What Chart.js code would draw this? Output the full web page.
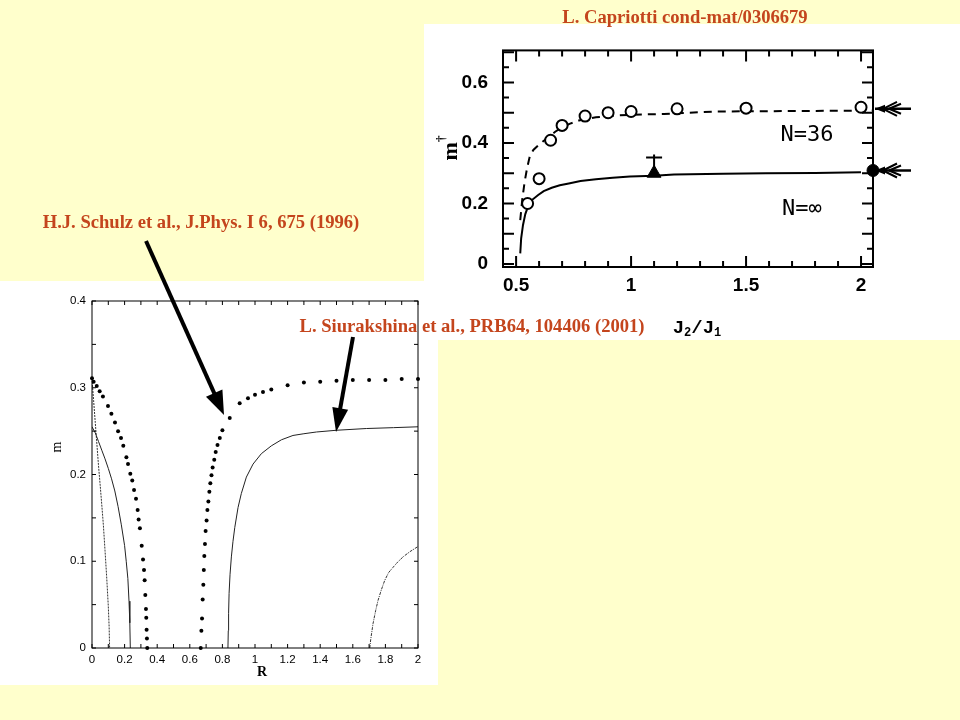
<!DOCTYPE html>
<html>
<head>
<meta charset="utf-8">
<script src="https://cdn.jsdelivr.net/npm/chart.js@4.4.1/dist/chart.umd.min.js"></script>
<style>
html,body{margin:0;padding:0;background:#FFFFCC;}
#page{position:relative;width:960px;height:720px;background:#FFFFCC;overflow:hidden;}
.box{position:absolute;background:#fff;}
#leftBox{left:0;top:281px;width:438px;height:404px;}
#rightBox{left:424px;top:24px;width:536px;height:316px;}
.note{position:absolute;color:#C4451D;font:bold 18.6px "Liberation Serif",serif;white-space:nowrap;transform:translate(-50%,-50%);}
#arrows{position:absolute;left:0;top:0;}
</style>
</head>
<body>
<div id="page">
  <div class="box" id="rightBox"><canvas id="right" width="536" height="316"></canvas></div>
  <div class="box" id="leftBox"><canvas id="left" width="438" height="404"></canvas></div>
  <svg id="arrows" width="960" height="720"></svg>
  <div class="note" style="left:685px;top:17px">L. Capriotti cond-mat/0306679</div>
  <div class="note" style="left:201px;top:222px">H.J. Schulz et al., J.Phys. I 6, 675 (1996)</div>
  <div class="note" style="left:472px;top:326px">L. Siurakshina et al., PRB64, 104406 (2001)</div>
</div>
<script>
// ---- left panel: m vs R ----
const leftXTicks = [0,0.2,0.4,0.6,0.8,1,1.2,1.4,1.6,1.8,2];
const leftYTicks = [0,0.1,0.2,0.3,0.4];

// Schulz et al. (dots)
const schulzLowX = [0,0.01,0.029,0.047,0.067,0.098,0.119,0.141,0.16,0.178,0.192,0.211,0.221,0.235,0.247,0.258,0.27,0.28,0.286,0.294,0.305,0.313,0.319,0.323,0.327,0.331,0.333,0.335,0.337,0.339];
const schulzLowY = [0.311,0.307,0.302,0.296,0.29,0.279,0.27,0.26,0.25,0.242,0.233,0.22,0.212,0.201,0.193,0.182,0.172,0.159,0.148,0.138,0.118,0.102,0.09,0.078,0.061,0.045,0.035,0.021,0.011,0];
const schulzHighX = [0.667,0.671,0.675,0.679,0.683,0.686,0.689,0.693,0.697,0.703,0.708,0.714,0.72,0.726,0.733,0.74,0.75,0.759,0.77,0.784,0.8,0.845,0.906,0.957,1.0,1.049,1.1,1.2,1.3,1.4,1.5,1.6,1.7,1.8,1.9,2.0];
const schulzHighY = [0,0.02,0.034,0.056,0.073,0.09,0.106,0.12,0.135,0.147,0.159,0.169,0.18,0.19,0.199,0.208,0.217,0.226,0.234,0.242,0.251,0.265,0.282,0.288,0.292,0.295,0.298,0.303,0.306,0.307,0.308,0.309,0.309,0.309,0.31,0.31];

// Siurakshina et al. (thin curves)
const curveAX = [0,0.02,0.04,0.06,0.08,0.1,0.12,0.14,0.16,0.18,0.2,0.21,0.22,0.227,0.232,0.235];
const curveAY = [0.255,0.248,0.238,0.228,0.218,0.207,0.195,0.181,0.163,0.142,0.118,0.1,0.08,0.054,0.029,0];
const curveBX = [0,0.01,0.02,0.03,0.04,0.05,0.06,0.07,0.08,0.09,0.1,0.105,0.108];
const curveBY = [0.31,0.285,0.26,0.235,0.21,0.188,0.165,0.141,0.112,0.082,0.048,0.025,0];
const curveCX = [0.834,0.836,0.838,0.841,0.847,0.855,0.865,0.876,0.896,0.916,0.947,0.988,1.039,1.1,1.162,1.233,1.3,1.377,1.5,1.683,1.85,2.0];
const curveCY = [0,0.02,0.04,0.063,0.085,0.105,0.123,0.139,0.162,0.178,0.197,0.212,0.224,0.233,0.24,0.245,0.247,0.249,0.251,0.253,0.254,0.255];
const curveDX = [1.704,1.71,1.724,1.74,1.755,1.775,1.796,1.82,1.847,1.875,1.908,1.95,2.0];
const curveDY = [0,0.01,0.028,0.043,0.055,0.067,0.078,0.087,0.093,0.099,0.105,0.111,0.117];

// ---- right panel: m+ vs J2/J1 (Capriotti) ----
const rightXTicks = [0.5,1,1.5,2];
const rightYTicks = [0,0.2,0.4,0.6];
const n36X = [0.55,0.6,0.65,0.7,0.8,0.9,1.0,1.2,1.5,2.0];
const n36Y = [0.2,0.282,0.409,0.458,0.489,0.5,0.504,0.513,0.515,0.518];
const n36LineX = [0.518,0.527,0.537,0.548,0.559,0.575,0.596,0.618,0.64,0.67,0.699,0.735,0.773,0.81,0.847,0.92,0.995,1.143,1.364,1.586,1.8,2.052];
const n36LineY = [0.145,0.215,0.271,0.318,0.354,0.377,0.392,0.406,0.419,0.437,0.452,0.464,0.474,0.48,0.485,0.49,0.493,0.496,0.504,0.505,0.506,0.507];
const ninfX = [0.518,0.522,0.53,0.54,0.552,0.57,0.596,0.62,0.655,0.69,0.729,0.78,0.847,0.92,0.995,1.1,1.187,1.4,1.586,1.8,2.0];
const ninfY = [0.035,0.085,0.129,0.165,0.19,0.212,0.228,0.241,0.252,0.26,0.266,0.274,0.28,0.285,0.289,0.292,0.296,0.298,0.3,0.301,0.303];
const starPoint = [1.1, 0.3];
const starBar = [0.3, 0.362, 0.352];   // bottom, top, cap
const infDot = [2.052, 0.309];
const arrowLevels = [0.513, 0.309];
const curveLabels = [['N=36',1.765,0.426],['N=\u221e',1.743,0.181]];

const zip = (xs, ys) => xs.map((x, i) => ({x: x, y: ys[i]}));
const fmt = v => String(+v.toFixed(2));

function richText(ctx, x, y, parts, rot){
  ctx.save();
  ctx.translate(x, y);
  if(rot) ctx.rotate(rot);
  let w = 0;
  parts.forEach(p => { ctx.font = p.f; w += ctx.measureText(p.t).width; });
  let cx = -w/2;
  ctx.textBaseline = 'middle';
  ctx.textAlign = 'left';
  parts.forEach(p => { ctx.font = p.f; ctx.fillText(p.t, cx, p.dy || 0); cx += ctx.measureText(p.t).width; });
  ctx.restore();
}

// frame with inward ticks on all sides, plus extra text
const decor = {
  id: 'decor',
  afterDatasetsDraw(chart, args, o){
    const {ctx, chartArea: a, scales: {x, y}} = chart;
    ctx.save();
    ctx.strokeStyle = '#000';
    ctx.fillStyle = '#000';
    ctx.lineWidth = o.frame;
    ctx.strokeRect(a.left, a.top, a.right - a.left, a.bottom - a.top);
    const marks = (sc, minor, major, lmin, lmaj, horiz) => {
      for(let i = Math.ceil(sc.min/minor - 1e-6); i*minor <= sc.max + 1e-9; i++){
        const v = i*minor;
        const q = v/major;
        const len = Math.abs(q - Math.round(q)) < 1e-6 ? lmaj : lmin;
        const p = sc.getPixelForValue(v);
        ctx.beginPath();
        if(horiz){
          ctx.moveTo(p, a.bottom); ctx.lineTo(p, a.bottom - len);
          ctx.moveTo(p, a.top); ctx.lineTo(p, a.top + len);
        } else {
          ctx.moveTo(a.left, p); ctx.lineTo(a.left + len, p);
          ctx.moveTo(a.right, p); ctx.lineTo(a.right - len, p);
        }
        ctx.stroke();
      }
    };
    marks(x, o.xt[0], o.xt[1], o.xt[2], o.xt[3], true);
    marks(y, o.yt[0], o.yt[1], o.yt[2], o.yt[3], false);
    (o.titles || []).forEach(t => richText(ctx, t.x, t.y, t.parts, t.rot));
    (o.dataText || []).forEach(t => {
      ctx.font = o.dataFont;
      ctx.textAlign = 'center';
      ctx.textBaseline = 'middle';
      ctx.fillText(t[0], x.getPixelForValue(t[1]), y.getPixelForValue(t[2]));
    });
    (o.arrows || []).forEach(lv => {
      const py = y.getPixelForValue(lv);
      const tx = a.right + 2;
      ctx.lineWidth = 2.5;
      ctx.beginPath(); ctx.moveTo(tx, py); ctx.lineTo(tx + 36, py); ctx.stroke();
      ctx.beginPath(); ctx.moveTo(tx, py); ctx.lineTo(tx + 10, py - 4); ctx.lineTo(tx + 10, py + 4); ctx.closePath(); ctx.fill();
      ctx.lineWidth = 2;
      ctx.beginPath();
      ctx.moveTo(tx + 8, py); ctx.lineTo(tx + 22, py - 7);
      ctx.moveTo(tx + 8, py); ctx.lineTo(tx + 22, py + 7);
      ctx.moveTo(tx + 14, py); ctx.lineTo(tx + 26, py - 5);
      ctx.moveTo(tx + 14, py); ctx.lineTo(tx + 26, py + 5);
      ctx.stroke();
    });
    ctx.restore();
  }
};

const setTicks = list => s => { s.ticks = list.map(v => ({value: v})); };

// left chart
new Chart(document.getElementById('left'), {
  type: 'scatter',
  data: {datasets: [
    {data: zip(schulzLowX, schulzLowY), pointRadius: 2, pointBackgroundColor: '#000', pointBorderWidth: 0, clip: false},
    {data: zip(schulzHighX, schulzHighY), pointRadius: 2, pointBackgroundColor: '#000', pointBorderWidth: 0, clip: false},
    {data: zip(curveAX, curveAY), showLine: true, pointRadius: 0, borderColor: '#222', borderWidth: 1},
    {data: zip(curveBX, curveBY), showLine: true, pointRadius: 0, borderColor: '#333', borderWidth: 1, borderDash: [2, 1]},
    {data: zip(curveCX, curveCY), showLine: true, pointRadius: 0, borderColor: '#222', borderWidth: 1},
    {data: zip(curveDX, curveDY), showLine: true, pointRadius: 0, borderColor: '#333', borderWidth: 1, borderDash: [3, 1, 1, 1]}
  ]},
  options: {
    responsive: false, animation: false, events: [],
    layout: {padding: {left: 45, top: 20, right: 20, bottom: 0}},
    plugins: {
      legend: {display: false}, tooltip: {enabled: false},
      decor: {
        frame: 1, xt: [0.1, 0.2, 4, 4], yt: [0.05, 0.1, 4, 4],
        titles: [
          {x: 57, y: 166, rot: -Math.PI/2, parts: [{t: 'm', f: '14px "Liberation Serif"'}]},
          {x: 262, y: 391, parts: [{t: 'R', f: 'bold 14px "Liberation Serif"'}]}
        ]
      }
    },
    scales: {
      x: {type: 'linear', min: 0, max: 2, afterFit: s => { s.height = 37; }, afterBuildTicks: setTicks(leftXTicks),
          grid: {display: false, drawTicks: false}, border: {display: false},
          ticks: {padding: 5, color: '#000', autoSkip: false, maxRotation: 0, font: {family: 'Liberation Sans', size: 11.5}, callback: fmt}},
      y: {type: 'linear', min: 0, max: 0.4, afterFit: s => { s.width = 47; }, afterBuildTicks: setTicks(leftYTicks),
          grid: {display: false, drawTicks: false}, border: {display: false},
          ticks: {padding: 6, color: '#000', autoSkip: false, font: {family: 'Liberation Sans', size: 11.5}, callback: fmt}}
    }
  },
  plugins: [decor]
});

// right chart
new Chart(document.getElementById('right'), {
  type: 'scatter',
  data: {datasets: [
    {data: [{x: infDot[0], y: infDot[1]}], pointRadius: 6, pointBackgroundColor: '#000', pointBorderColor: '#000', clip: false},
    {data: [{x: starPoint[0], y: starPoint[1]}], pointStyle: 'triangle', pointRadius: 8, pointBackgroundColor: '#000', pointBorderColor: '#000'},
    {data: [{x: starPoint[0], y: starBar[2]}], pointStyle: 'line', pointRadius: 8, pointBorderColor: '#000', pointBorderWidth: 2},
    {data: [{x: starPoint[0], y: starBar[0]}, {x: starPoint[0], y: starBar[1]}], showLine: true, pointRadius: 0, borderColor: '#000', borderWidth: 2},
    {data: zip(n36X, n36Y), pointRadius: 5.5, pointBackgroundColor: '#fff', pointBorderColor: '#000', pointBorderWidth: 2},
    {data: zip(n36LineX, n36LineY), showLine: true, pointRadius: 0, borderColor: '#000', borderWidth: 2, borderDash: [8, 6]},
    {data: zip(ninfX, ninfY), showLine: true, pointRadius: 0, borderColor: '#000', borderWidth: 2}
  ]},
  options: {
    responsive: false, animation: false, events: [],
    layout: {padding: {left: 0, top: 21, right: 87, bottom: 0}},
    plugins: {
      legend: {display: false}, tooltip: {enabled: false},
      decor: {
        frame: 2, xt: [0.1, 0.5, 6, 11], yt: [0.05, 0.1, 6, 11],
        titles: [
          {x: 25, y: 124, rot: -Math.PI/2, parts: [
            {t: 'm', f: 'bold 22px "Liberation Serif"', dy: 2},
            {t: '\u2020', f: 'bold 13px "Liberation Serif"', dy: -7}]},
          {x: 273, y: 304, parts: [
            {t: 'J', f: 'bold 19px "Liberation Mono"'},
            {t: '2', f: 'bold 12px "Liberation Mono"', dy: 5},
            {t: '/', f: 'bold 19px "Liberation Mono"'},
            {t: 'J', f: 'bold 19px "Liberation Mono"'},
            {t: '1', f: 'bold 12px "Liberation Mono"', dy: 5}]}
        ],
        dataText: curveLabels,
        dataFont: '22px "DejaVu Sans Mono"',
        arrows: arrowLevels
      }
    },
    scales: {
      x: {type: 'linear', min: 0.443, max: 2.052, afterFit: s => { s.height = 73; }, afterBuildTicks: setTicks(rightXTicks),
          grid: {display: false, drawTicks: false}, border: {display: false},
          ticks: {padding: 7, color: '#000', autoSkip: false, maxRotation: 0, font: {family: 'Liberation Sans', size: 19, weight: 'bold'}, callback: fmt}},
      y: {type: 'linear', min: -0.01, max: 0.706, afterFit: s => { s.width = 79; }, afterBuildTicks: setTicks(rightYTicks),
          grid: {display: false, drawTicks: false}, border: {display: false},
          ticks: {padding: 15, color: '#000', autoSkip: false, font: {family: 'Liberation Sans', size: 19, weight: 'bold'}, callback: fmt}}
    }
  },
  plugins: [decor]
});

// pointer arrows on the slide
const svg = document.getElementById('arrows');
function arrow(x1, y1, x2, y2, w, hl, hw){
  const dx = x2 - x1, dy = y2 - y1, L = Math.hypot(dx, dy), ux = dx/L, uy = dy/L;
  const bx = x2 - ux*hl, by = y2 - uy*hl;
  svg.innerHTML += `<line x1="${x1}" y1="${y1}" x2="${bx + ux*2}" y2="${by + uy*2}" stroke="#000" stroke-width="${w}"/>` +
    `<polygon points="${x2},${y2} ${bx - uy*hw},${by + ux*hw} ${bx + uy*hw},${by - ux*hw}" fill="#000"/>`;
}
arrow(146, 241, 224, 415, 4, 24, 9);
arrow(353, 337, 336, 432, 4, 24, 8);
</script>
</body>
</html>
